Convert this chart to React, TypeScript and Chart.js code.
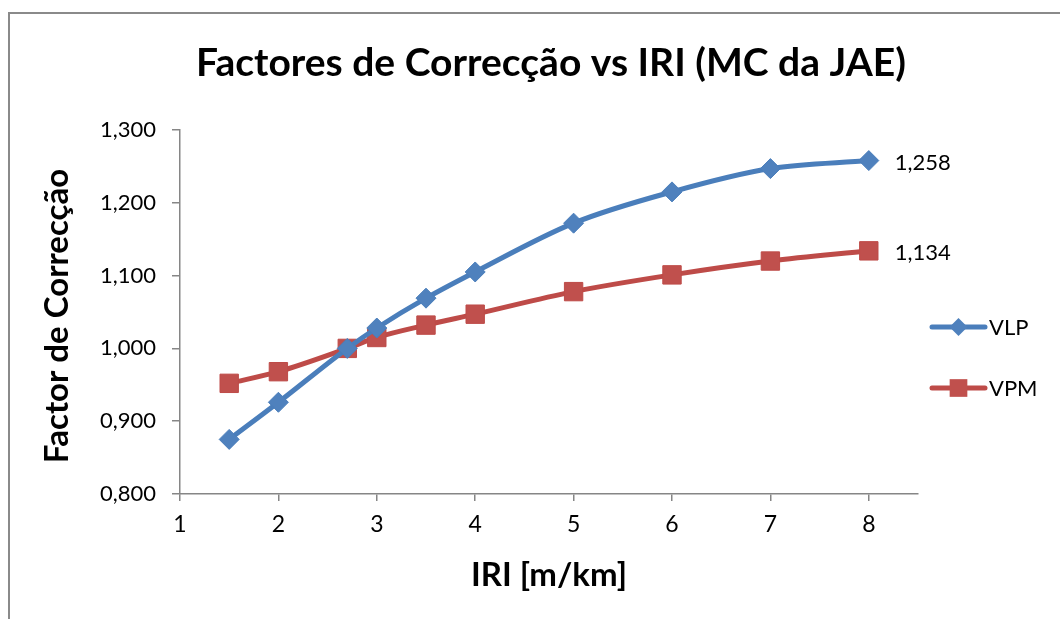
import React, { useEffect, useRef } from "react";
import { Chart, registerables } from "chart.js";

Chart.register(...registerables);

const titleText = "Factores de Correcção vs IRI (MC da JAE)";
const xTitle = "IRI [m/km]";
const yTitle = "Factor de Correcção";
const iri = [1.5, 2, 2.7, 3, 3.5, 4, 5, 6, 7, 8];
const vlp = [0.875, 0.926, 1.0, 1.028, 1.069, 1.105, 1.172, 1.215, 1.247, 1.258];
const vpm = [0.952, 0.968, 1.0, 1.015, 1.032, 1.047, 1.078, 1.101, 1.12, 1.134];
const xTicks = [1, 2, 3, 4, 5, 6, 7, 8];
const yTicks = [0.8, 0.9, 1.0, 1.1, 1.2, 1.3];
const seriesNames = ["VLP", "VPM"];

const BLUE = "#4A7EBB";
const BLUE_FILL = "#4F81BD";
const RED = "#BE4B48";
const RED_FILL = "#C0504D";
const AXIS = "#868686";
const FONT = "Lato";

const fmt = (v: number) => v.toFixed(3).replace(".", ",");

const overlay = {
  id: "overlay",
  afterDraw(chart: any) {
    const { ctx, scales } = chart;
    const xs = scales.x;
    const ys = scales.y;
    ctx.save();
    ctx.fillStyle = "#000";
    // title
    ctx.font = `bold 39px ${FONT}`;
    ctx.textAlign = "center";
    ctx.textBaseline = "middle";
    ctx.fillText(titleText, 551, 63);
    // x title
    ctx.font = `bold 33px ${FONT}`;
    ctx.fillText(xTitle, 549, 575);
    // y title
    ctx.save();
    ctx.translate(57, 316);
    ctx.rotate(-Math.PI / 2);
    ctx.fillText(yTitle, 0, 0);
    ctx.restore();
    // data labels on last points
    ctx.font = `22px ${FONT}`;
    ctx.textAlign = "left";
    const lastX = iri[iri.length - 1];
    ctx.fillText(fmt(vlp[vlp.length - 1]), xs.getPixelForValue(lastX) + 26, ys.getPixelForValue(vlp[vlp.length - 1]) + 2);
    ctx.fillText(fmt(vpm[vpm.length - 1]), xs.getPixelForValue(lastX) + 26, ys.getPixelForValue(vpm[vpm.length - 1]) + 2);
    // legend
    const items = [
      { name: seriesNames[0], color: BLUE, fill: BLUE_FILL, style: "rectRot", r: 9, y: 327 },
      { name: seriesNames[1], color: RED, fill: RED_FILL, style: "rect", r: 12.5, y: 388 },
    ];
    for (const it of items) {
      ctx.strokeStyle = it.color;
      ctx.lineWidth = 5;
      ctx.lineCap = "round";
      ctx.beginPath();
      ctx.moveTo(932, it.y);
      ctx.lineTo(985, it.y);
      ctx.stroke();
      ctx.fillStyle = it.fill;
      const cx = 958.5;
      if (it.style === "rectRot") {
        ctx.beginPath();
        ctx.moveTo(cx, it.y - it.r);
        ctx.lineTo(cx + it.r, it.y);
        ctx.lineTo(cx, it.y + it.r);
        ctx.lineTo(cx - it.r, it.y);
        ctx.closePath();
        ctx.fill();
      } else {
        const s = it.r * Math.SQRT1_2;
        ctx.fillRect(cx - s, it.y - s, 2 * s, 2 * s);
      }
      ctx.fillStyle = "#000";
      ctx.font = `22px ${FONT}`;
      ctx.textAlign = "left";
      ctx.fillText(it.name, 989, it.y + 1);
    }
    ctx.restore();
  },
};

export default function App() {
  const ref = useRef<HTMLCanvasElement | null>(null);
  useEffect(() => {
    if (!ref.current) return;
    const chart = new Chart(ref.current, {
      type: "line",
      data: {
        datasets: [
          {
            label: seriesNames[0],
            data: iri.map((x, i) => ({ x, y: vlp[i] })),
            borderColor: BLUE,
            backgroundColor: BLUE_FILL,
            borderWidth: 5,
            pointStyle: "rectRot",
            pointRadius: 10,
            pointBorderWidth: 1,
            pointBorderColor: BLUE,
            pointBackgroundColor: BLUE_FILL,
            cubicInterpolationMode: "monotone",
          },
          {
            label: seriesNames[1],
            data: iri.map((x, i) => ({ x, y: vpm[i] })),
            borderColor: RED,
            backgroundColor: RED_FILL,
            borderWidth: 5,
            pointStyle: "rect",
            pointRadius: 13,
            pointBorderWidth: 1,
            pointBorderColor: RED,
            pointBackgroundColor: RED_FILL,
            cubicInterpolationMode: "monotone",
          },
        ],
      },
      options: {
        animation: false,
        responsive: false,
        maintainAspectRatio: false,
        layout: { padding: { left: 0, right: 142, top: 130, bottom: 0 } },
        plugins: { legend: { display: false }, title: { display: false }, tooltip: { enabled: false } },
        scales: {
          x: {
            type: "linear",
            min: 1,
            max: 8.5,
            afterBuildTicks: (s: any) => {
              s.ticks = xTicks.map((v) => ({ value: v }));
            },
            afterFit: (s: any) => {
              s.height = 125;
            },
            grid: { display: true, drawOnChartArea: false, drawTicks: true, tickLength: 7, color: AXIS, lineWidth: 1.5 },
            border: { color: AXIS, width: 1.5 },
            ticks: { color: "#000", font: { family: FONT, size: 23 }, padding: 10, maxRotation: 0, autoSkip: false },
          },
          y: {
            type: "linear",
            min: 0.8,
            max: 1.3,
            afterBuildTicks: (s: any) => {
              s.ticks = yTicks.map((v) => ({ value: v }));
            },
            afterFit: (s: any) => {
              s.width = 180;
            },
            grid: { display: true, drawOnChartArea: false, drawTicks: true, tickLength: 8, color: AXIS, lineWidth: 1.5 },
            border: { color: AXIS, width: 1.5 },
            ticks: {
              color: "#000",
              font: { family: FONT, size: 22 },
              padding: 16,
              callback: (v: any) => fmt(Number(v)),
            },
          },
        },
      },
      plugins: [overlay],
    } as any);
    return () => chart.destroy();
  }, []);

  return (
    <div style={{ position: "fixed", left: 0, top: 0, width: 1060, height: 619, overflow: "hidden", background: "#fff" }}>
      <div
        style={{
          position: "absolute",
          left: 8,
          top: 12,
          width: 1200,
          height: 800,
          border: "2px solid #8a8a8a",
          boxSizing: "border-box",
        }}
      />
      <canvas ref={ref} width={1060} height={619} style={{ position: "absolute", left: 0, top: 0, width: 1060, height: 619 }} />
    </div>
  );
}
